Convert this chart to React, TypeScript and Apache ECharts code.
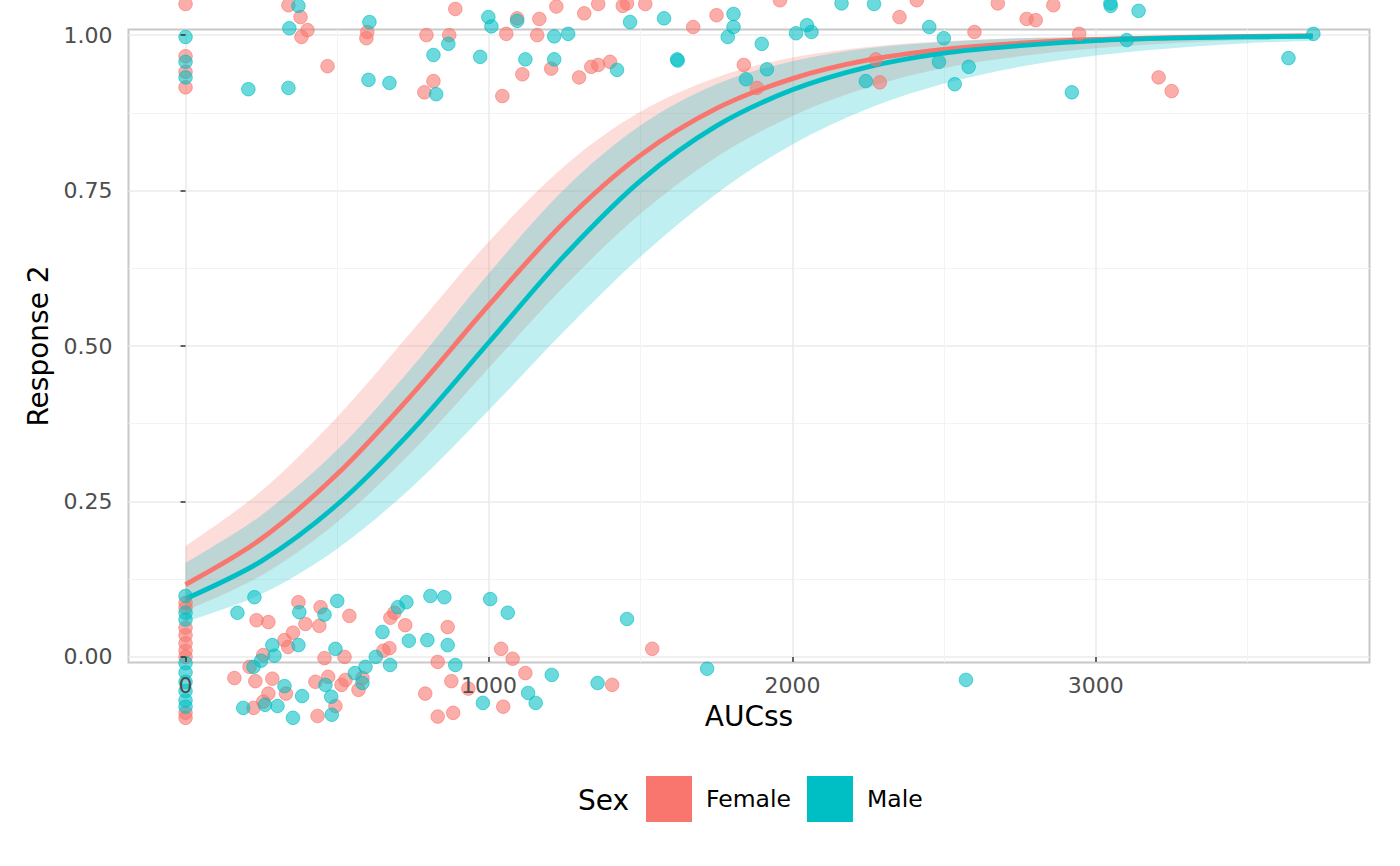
import React, { useEffect, useRef } from "react";
import * as echarts from "echarts";

const FONT = "DejaVu Sans";
const FEMALE = "#F8766D";
const MALE = "#00BFC4";

const xTicks = [0, 1000, 2000, 3000];
const xMinor = [500, 1500, 2500, 3500];
const yTicks = [0, 0.25, 0.5, 0.75, 1];
const yMinor = [0.125, 0.375, 0.625, 0.875];

const X_MIN = -188;
const X_MAX = 3902;
const Y_MIN = -0.009;
const Y_MAX = 1.009;

// fitted curves and confidence bands, read at these AUCss values
const fitAUC = [0, 250, 500, 750, 1000, 1250, 1500, 1750, 2000, 2250, 2500, 2750, 3000, 3250, 3500, 3715];
const femaleFit = [0.116, 0.19, 0.294, 0.424, 0.566, 0.7, 0.807, 0.882, 0.93, 0.96, 0.977, 0.987, 0.993, 0.996, 0.998, 0.999];
const femaleUpper = [0.178, 0.267, 0.386, 0.526, 0.668, 0.79, 0.877, 0.932, 0.964, 0.981, 0.99, 0.995, 0.997, 0.999, 0.9993, 0.9996];
const femaleLower = [0.074, 0.131, 0.217, 0.332, 0.465, 0.597, 0.713, 0.804, 0.87, 0.916, 0.947, 0.966, 0.979, 0.987, 0.992, 0.9945];
const maleFit = [0.093, 0.154, 0.245, 0.366, 0.506, 0.646, 0.766, 0.854, 0.912, 0.949, 0.971, 0.983, 0.991, 0.995, 0.997, 0.998];
const maleUpper = [0.151, 0.228, 0.333, 0.468, 0.617, 0.753, 0.855, 0.921, 0.958, 0.979, 0.989, 0.995, 0.997, 0.999, 0.9993, 0.9996];
const maleLower = [0.056, 0.101, 0.174, 0.275, 0.397, 0.525, 0.644, 0.745, 0.824, 0.882, 0.922, 0.949, 0.967, 0.979, 0.987, 0.991];

// jittered observations [AUCss, response]
const femalePoints: [number, number][] = [
  [0, 1.05], [0, 0.966], [0, 0.941], [0, 0.916],
  [0, 0.087], [0, 0.079], [0, 0.047], [0, 0.035], [0, 0.022], [0, 0.01], [0, 0.0], [0, -0.09], [0, -0.098],
  [339, 1.048], [379, 1.029], [402, 1.008], [382, 0.997], [468, 0.95], [599, 1.005], [596, 0.995],
  [889, 1.042], [794, 1.0], [869, 1.0], [817, 0.926], [787, 0.908], [1057, 1.002], [1044, 0.902],
  [1093, 1.027], [1166, 1.026], [1159, 1.0], [1110, 0.937], [1205, 0.946], [1222, 1.046], [1314, 1.035],
  [1360, 1.05], [1441, 1.047], [1455, 1.051], [1515, 1.05], [1297, 0.932], [1337, 0.949], [1360, 0.952],
  [1399, 0.957], [1673, 1.013], [1750, 1.032], [1840, 0.952], [1883, 0.915], [1959, 1.056], [2353, 1.029],
  [2410, 1.056], [2600, 1.005], [2275, 0.961], [2288, 0.924], [2677, 1.051], [2772, 1.026], [2802, 1.024],
  [2860, 1.048], [2945, 1.002], [3207, 0.932], [3250, 0.91],
  [234, 0.059], [273, 0.056], [372, 0.088], [445, 0.08], [395, 0.053], [441, 0.05], [540, 0.066],
  [354, 0.039], [326, 0.027], [338, 0.016], [256, 0.003], [458, -0.002], [524, 0.0], [211, -0.016],
  [161, -0.034], [230, -0.039], [286, -0.035], [331, -0.059], [273, -0.059], [256, -0.072], [224, -0.082],
  [428, -0.04], [470, -0.032], [494, -0.079], [435, -0.095], [514, -0.045], [527, -0.037], [570, -0.053],
  [583, -0.034], [652, 0.01], [672, 0.014], [675, 0.063], [688, 0.071], [724, 0.051], [864, 0.048],
  [831, -0.008], [876, -0.039], [790, -0.059], [831, -0.096], [882, -0.09], [932, -0.051], [1040, 0.013],
  [1078, -0.003], [1120, -0.026], [1047, -0.08], [1406, -0.045], [1538, 0.013],
];

const malePoints: [number, number][] = [
  [0, 0.997], [0, 0.957], [0, 0.932],
  [0, 0.098], [0, 0.071], [0, 0.06], [0, -0.01], [0, -0.025], [0, -0.04], [0, -0.055], [0, -0.07], [0, -0.08],
  [372, 1.047], [342, 1.011], [207, 0.913], [339, 0.915], [606, 1.021], [603, 0.928], [672, 0.923],
  [866, 0.986], [817, 0.968], [826, 0.905], [998, 1.029], [1008, 1.014], [971, 0.965], [1093, 1.023],
  [1215, 0.998], [1261, 1.002], [1120, 0.961], [1215, 0.961], [1422, 0.944], [1465, 1.021], [1577, 1.027],
  [1620, 0.961], [1622, 0.959], [1806, 1.034], [1806, 1.013], [1787, 0.997], [1899, 0.986], [1916, 0.945],
  [1847, 0.929], [2162, 1.051], [2269, 1.05], [2012, 1.003], [2048, 1.016], [2063, 1.005], [2451, 1.013],
  [2499, 0.995], [2483, 0.957], [2581, 0.949], [2535, 0.921], [2242, 0.926], [3048, 1.051], [3049, 1.047],
  [3141, 1.039], [3102, 0.992], [2921, 0.908], [3635, 0.963], [3717, 1.002],
  [227, 0.096], [171, 0.071], [375, 0.072], [458, 0.068], [500, 0.09], [286, 0.019], [372, 0.019],
  [293, 0.002], [494, 0.013], [249, -0.006], [224, -0.016], [326, -0.047], [262, -0.077], [303, -0.079],
  [190, -0.082], [384, -0.063], [354, -0.098], [461, -0.045], [480, -0.064], [482, -0.093], [558, -0.026],
  [593, -0.016], [583, -0.042], [627, 0.0], [674, -0.013], [649, 0.04], [700, 0.08], [728, 0.088],
  [736, 0.026], [797, 0.027], [807, 0.098], [853, 0.096], [864, 0.019], [889, -0.013], [1004, 0.093],
  [1062, 0.071], [980, -0.074], [1129, -0.058], [1154, -0.074], [1207, -0.029], [1358, -0.042],
  [1455, 0.061], [1719, -0.019], [2572, -0.037],
];

function hiddenAxis(min: number, max: number, position: string) {
  return {
    type: "value",
    min,
    max,
    position,
    axisLine: { show: false },
    axisLabel: { show: false },
    axisTick: { show: false },
    splitLine: { show: false },
  };
}

// smooth path through pixel points (Catmull-Rom as cubic Bezier segments)
function splineThrough(pts: number[][], start: "M" | "L"): string {
  let d = `${start} ${pts[0][0]} ${pts[0][1]}`;
  for (let i = 0; i < pts.length - 1; i++) {
    const p0 = pts[Math.max(i - 1, 0)];
    const p1 = pts[i];
    const p2 = pts[i + 1];
    const p3 = pts[Math.min(i + 2, pts.length - 1)];
    const c1x = p1[0] + (p2[0] - p0[0]) / 6;
    const c1y = p1[1] + (p2[1] - p0[1]) / 6;
    const c2x = p2[0] - (p3[0] - p1[0]) / 6;
    const c2y = p2[1] - (p3[1] - p1[1]) / 6;
    d += ` C ${c1x} ${c1y} ${c2x} ${c2y} ${p2[0]} ${p2[1]}`;
  }
  return d;
}

function bandSeries(name: string, upper: number[], lower: number[], fill: string) {
  return {
    name,
    type: "custom",
    silent: true,
    data: [[fitAUC[0], lower[0]]],
    renderItem: (_params: any, api: any) => {
      const up = fitAUC.map((x, i) => api.coord([x, upper[i]]));
      const lo = fitAUC.map((x, i) => api.coord([x, lower[i]])).reverse();
      const d = splineThrough(up, "M") + " " + splineThrough(lo, "L") + " Z";
      return { type: "path", shape: { pathData: d }, style: { fill, stroke: "none" } };
    },
  };
}

function fitSeries(name: string, values: number[], color: string) {
  return {
    name,
    type: "custom",
    silent: true,
    data: [[fitAUC[0], values[0]]],
    renderItem: (_params: any, api: any) => {
      const pts = fitAUC.map((x, i) => api.coord([x, values[i]]));
      return {
        type: "path",
        shape: { pathData: splineThrough(pts, "M") },
        style: { fill: "none", stroke: color, lineWidth: 4.8, lineCap: "butt", lineJoin: "round" },
      };
    },
  };
}

export default function App() {
  const ref = useRef<HTMLDivElement>(null);

  useEffect(() => {
    const chart = echarts.init(ref.current!, null, { renderer: "svg" });

    const majorLine = { color: "#EBEBEB", width: 1.6 };
    const minorLine = { color: "#F3F3F3", width: 1 };
    const tickStyle = { color: "#333333", width: 1.5 };

    const option: any = {
      animation: false,
      backgroundColor: "#FFFFFF",
      grid: {
        left: 128.5,
        right: 30.5,
        top: 29.5,
        bottom: 203.5,
        show: true,
        borderColor: "#C8C8C8",
        borderWidth: 2,
        backgroundColor: "transparent",
      },
      xAxis: [
        {
          ...hiddenAxis(X_MIN, X_MAX, "bottom"),
          axisTick: { show: false, customValues: xTicks },
          splitLine: { show: true, lineStyle: majorLine },
        },
        {
          ...hiddenAxis(X_MIN, X_MAX, "bottom"),
          axisTick: { show: false, customValues: xMinor },
          splitLine: { show: true, lineStyle: minorLine },
        },
        {
          ...hiddenAxis(X_MIN, X_MAX, "bottom"),
          z: 10,
          axisTick: { show: true, customValues: xTicks, length: 5, lineStyle: tickStyle },
          axisLabel: {
            show: true,
            customValues: xTicks,
            fontSize: 22,
            color: "#4D4D4D",
            fontFamily: FONT,
            margin: 12,
            formatter: (v: number) => String(v),
          },
          name: "AUCss",
          nameLocation: "middle",
          nameGap: 40,
          nameTextStyle: { fontSize: 28, color: "#000000", fontFamily: FONT },
        },
      ],
      yAxis: [
        {
          ...hiddenAxis(Y_MIN, Y_MAX, "left"),
          axisTick: { show: false, customValues: yTicks },
          splitLine: { show: true, lineStyle: majorLine },
        },
        {
          ...hiddenAxis(Y_MIN, Y_MAX, "left"),
          axisTick: { show: false, customValues: yMinor },
          splitLine: { show: true, lineStyle: minorLine },
        },
        {
          ...hiddenAxis(Y_MIN, Y_MAX, "left"),
          z: 10,
          axisTick: { show: true, customValues: yTicks, length: 5, lineStyle: tickStyle },
          axisLabel: {
            show: true,
            customValues: yTicks,
            fontSize: 22,
            color: "#4D4D4D",
            fontFamily: FONT,
            margin: 16,
            formatter: (v: number) => v.toFixed(2),
          },
          name: "Response 2",
          nameLocation: "middle",
          nameGap: 74,
          nameTextStyle: { fontSize: 28, color: "#000000", fontFamily: FONT },
        },
      ],
      legend: {
        show: true,
        selectedMode: false,
        orient: "horizontal",
        left: 646,
        top: 776,
        padding: 0,
        itemWidth: 46,
        itemHeight: 46,
        itemGap: 16,
        icon: "rect",
        data: [
          { name: "Female", icon: "rect", itemStyle: { color: FEMALE, borderWidth: 0, opacity: 1 } },
          { name: "Male", icon: "rect", itemStyle: { color: MALE, borderWidth: 0, opacity: 1 } },
        ],
        textStyle: { fontSize: 23.5, color: "#000000", fontFamily: FONT, padding: [0, 0, 0, 9] },
      },
      graphic: [
        {
          type: "text",
          x: 578,
          y: 800,
          style: { text: "Sex", fontSize: 28, fontFamily: FONT, fill: "#000000", verticalAlign: "middle" },
        },
      ],
      series: [
        bandSeries("Female band", femaleUpper, femaleLower, "rgba(248,118,109,0.25)"),
        bandSeries("Male band", maleUpper, maleLower, "rgba(0,191,196,0.25)"),
        fitSeries("Female fit", femaleFit, FEMALE),
        fitSeries("Male fit", maleFit, MALE),
        {
          name: "Female",
          type: "scatter",
          data: femalePoints,
          symbolSize: 13.5,
          clip: false,
          itemStyle: { color: "rgba(248,118,109,0.74)", borderColor: "rgba(248,118,109,0.8)", borderWidth: 1 },
        },
        {
          name: "Male",
          type: "scatter",
          data: malePoints,
          symbolSize: 13.5,
          clip: false,
          itemStyle: { color: "rgba(0,191,196,0.72)", borderColor: "rgba(0,191,196,0.8)", borderWidth: 1 },
        },
      ],
    };

    chart.setOption(option);
    return () => chart.dispose();
  }, []);

  return (
    <div
      ref={ref}
      style={{ position: "fixed", left: 0, top: 0, width: 1400, height: 866, background: "#FFFFFF" }}
    />
  );
}
